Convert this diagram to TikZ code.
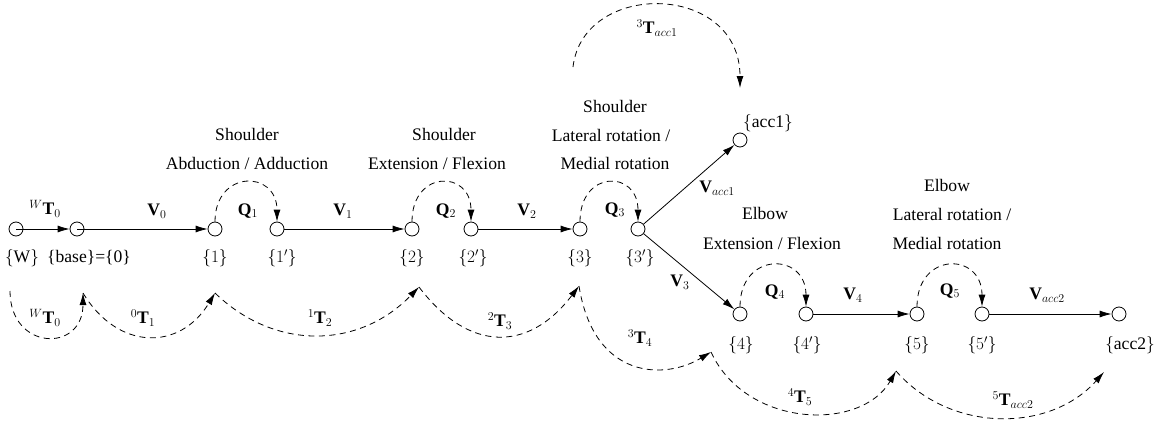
\documentclass[tikz,border=0pt]{standalone}
\usepackage{fontspec}
\setmainfont{Liberation Serif}
\usetikzlibrary{arrows.meta}
\newcommand\fsz{\fontsize{17.6}{21}\selectfont}
\tikzset{
  jnt/.style={draw, circle, minimum size=14pt, inner sep=0pt, line width=0.8pt, fill=white},
  txt/.style={inner sep=0pt, font=\fsz},
  arr/.style={line width=0.8pt, -{Latex[length=12pt,width=7pt]}},
  darr/.style={line width=0.8pt, dash pattern=on 6pt off 4.5pt, -{Latex[length=12pt,width=7pt]}},
}
\begin{document}
\begin{tikzpicture}[x=1pt,y=-1pt]
\useasboundingbox (0,0) rectangle (1163,426);
% joints
\node[jnt] (W)  at (16,229) {};
\node[jnt] (B)  at (77,229) {};
\node[jnt] (n1) at (215,229) {};
\node[jnt] (n1p) at (277,229) {};
\node[jnt] (n2) at (412,229) {};
\node[jnt] (n2p) at (471,229) {};
\node[jnt] (n3) at (580,229) {};
\node[jnt] (n3p) at (638,229) {};
\node[jnt] (a1) at (740,140) {};
\node[jnt] (n4) at (740,314) {};
\node[jnt] (n4p) at (806,314) {};
\node[jnt] (n5) at (917,314) {};
\node[jnt] (n5p) at (982,314) {};
\node[jnt] (a2) at (1119,314) {};
% frame labels
\node[txt] (lW) at (22,258) {$\{\mathrm{W}\}$};
\node[txt] (lB) at (89,258) {\{base\}=\{0\}};
\node[txt] (l1) at (215,258) {$\{1\}$};
\node[txt] (l1p) at (282,258) {$\{1'\}$};
\node[txt] (l2) at (412,258) {$\{2\}$};
\node[txt] (l2p) at (473,258) {$\{2'\}$};
\node[txt] (l3) at (580,258) {$\{3\}$};
\node[txt] (l3p) at (640,258) {$\{3'\}$};
\node[txt] (la1) at (768,123) {$\{$acc1$\}$};
\node[txt] (l4) at (741,345) {$\{4\}$};
\node[txt] (l4p) at (807,345) {$\{4'\}$};
\node[txt] (l5) at (917,345) {$\{5\}$};
\node[txt] (l5p) at (982,345) {$\{5'\}$};
\node[txt] (la2) at (1130,345) {$\{$acc2$\}$};
% titles
\node[txt] (s1a) at (247,134) {Shoulder};
\node[txt] (s1b) at (247,163) {Abduction / Adduction};
\node[txt] (s2a) at (444,134) {Shoulder};
\node[txt] (s2b) at (437,163) {Extension / Flexion};
\node[txt] (s3a) at (615,106) {Shoulder};
\node[txt] (s3b) at (611,135) {Lateral rotation /};
\node[txt] (s3c) at (615,163) {Medial rotation};
\node[txt] (e1a) at (765,213) {Elbow};
\node[txt] (e1b) at (772,243) {Extension / Flexion};
\node[txt] (e2a) at (947,185) {Elbow};
\node[txt] (e2b) at (952,214) {Lateral rotation /};
\node[txt] (e2c) at (947,243) {Medial rotation};
% solid links
\draw[arr] (W.center) -- (B);
\draw[arr] (B.center) -- (n1);
\draw[arr] (n1p) -- (n2);
\draw[arr] (n2p) -- (n3);
\draw[arr] (n3p) -- (a1);
\draw[arr] (n3p) -- (n4);
\draw[arr] (n4p) -- (n5);
\draw[arr] (n5p) -- (a2);
% link labels
\node[txt] (tW0) at (45,209) {$^{W}\mathbf{T}_0$};
\node[txt] (v0) at (157,211) {$\mathbf{V}_0$};
\node[txt] (q1) at (248,211) {$\mathbf{Q}_1$};
\node[txt] (v1) at (343,211) {$\mathbf{V}_1$};
\node[txt] (q2) at (446,211) {$\mathbf{Q}_2$};
\node[txt] (v2) at (527,211) {$\mathbf{V}_2$};
\node[txt] (q3) at (615,210) {$\mathbf{Q}_3$};
\node[txt] (va1) at (717,188) {$\mathbf{V}_{acc1}$};
\node[txt] (v3) at (680,282) {$\mathbf{V}_3$};
\node[txt] (q4) at (775,292) {$\mathbf{Q}_4$};
\node[txt] (v4) at (853,295) {$\mathbf{V}_4$};
\node[txt] (q5) at (950,291) {$\mathbf{Q}_5$};
\node[txt] (va2) at (1047,295) {$\mathbf{V}_{acc2}$};
% joint rotations
\draw[darr] (n1.north) .. controls +(0,-52) and +(0,-52) .. (n1p.north);
\draw[darr] (n2.north) .. controls +(0,-52) and +(0,-52) .. (n2p.north);
\draw[darr] (n3.north) .. controls +(0,-52) and +(0,-52) .. (n3p.north);
\draw[darr] (n4.north) .. controls +(0,-55) and +(0,-55) .. (n4p.north);
\draw[darr] (n5.north) .. controls +(0,-55) and +(0,-55) .. (n5p.north);
% transforms
\coordinate (tW) at (10,291);
\coordinate (tB) at (83,293);
\coordinate (t1) at (215,293);
\coordinate (t2) at (419,287);
\coordinate (t3) at (579,286);
\coordinate (t4) at (711,352);
\coordinate (t5) at (896,371);
\coordinate (ta2) at (1104,372);
\coordinate (ts) at (573,67);
\coordinate (ta1) at (740,88);
\draw[darr] (tW) .. controls +(0,60) and +(0,60) .. (tB);
\draw[darr] (tB) .. controls +(35,58) and +(-35,58) .. (t1);
\draw[darr] (t1) .. controls +(60,58) and +(-60,62) .. (t2);
\draw[darr] (t2) .. controls +(50,66) and +(-50,66) .. (t3);
\draw[darr] (t3) .. controls +(15,94) and +(-46,28) .. (t4);
\draw[darr] (t4) .. controls +(35,76) and +(-35,61) .. (t5);
\draw[darr] (t5) .. controls +(54,62) and +(-54,61) .. (ta2);
\draw[darr] (ts) .. controls +(10,-87) and +(0,-106) .. (ta1);
\node[txt] (bW0) at (45,318) {$^{W}\mathbf{T}_0$};
\node[txt] (b01) at (143,318) {$^{0}\mathbf{T}_1$};
\node[txt] (b12) at (320,318) {$^{1}\mathbf{T}_2$};
\node[txt] (b23) at (500,321) {$^{2}\mathbf{T}_3$};
\node[txt] (b34) at (640,338) {$^{3}\mathbf{T}_4$};
\node[txt] (b45) at (800,397) {$^{4}\mathbf{T}_5$};
\node[txt] (b5a) at (1013,400) {$^{5}\mathbf{T}_{acc2}$};
\node[txt] (b3a) at (657,28) {$^{3}\mathbf{T}_{acc1}$};
\end{tikzpicture}
\end{document}
